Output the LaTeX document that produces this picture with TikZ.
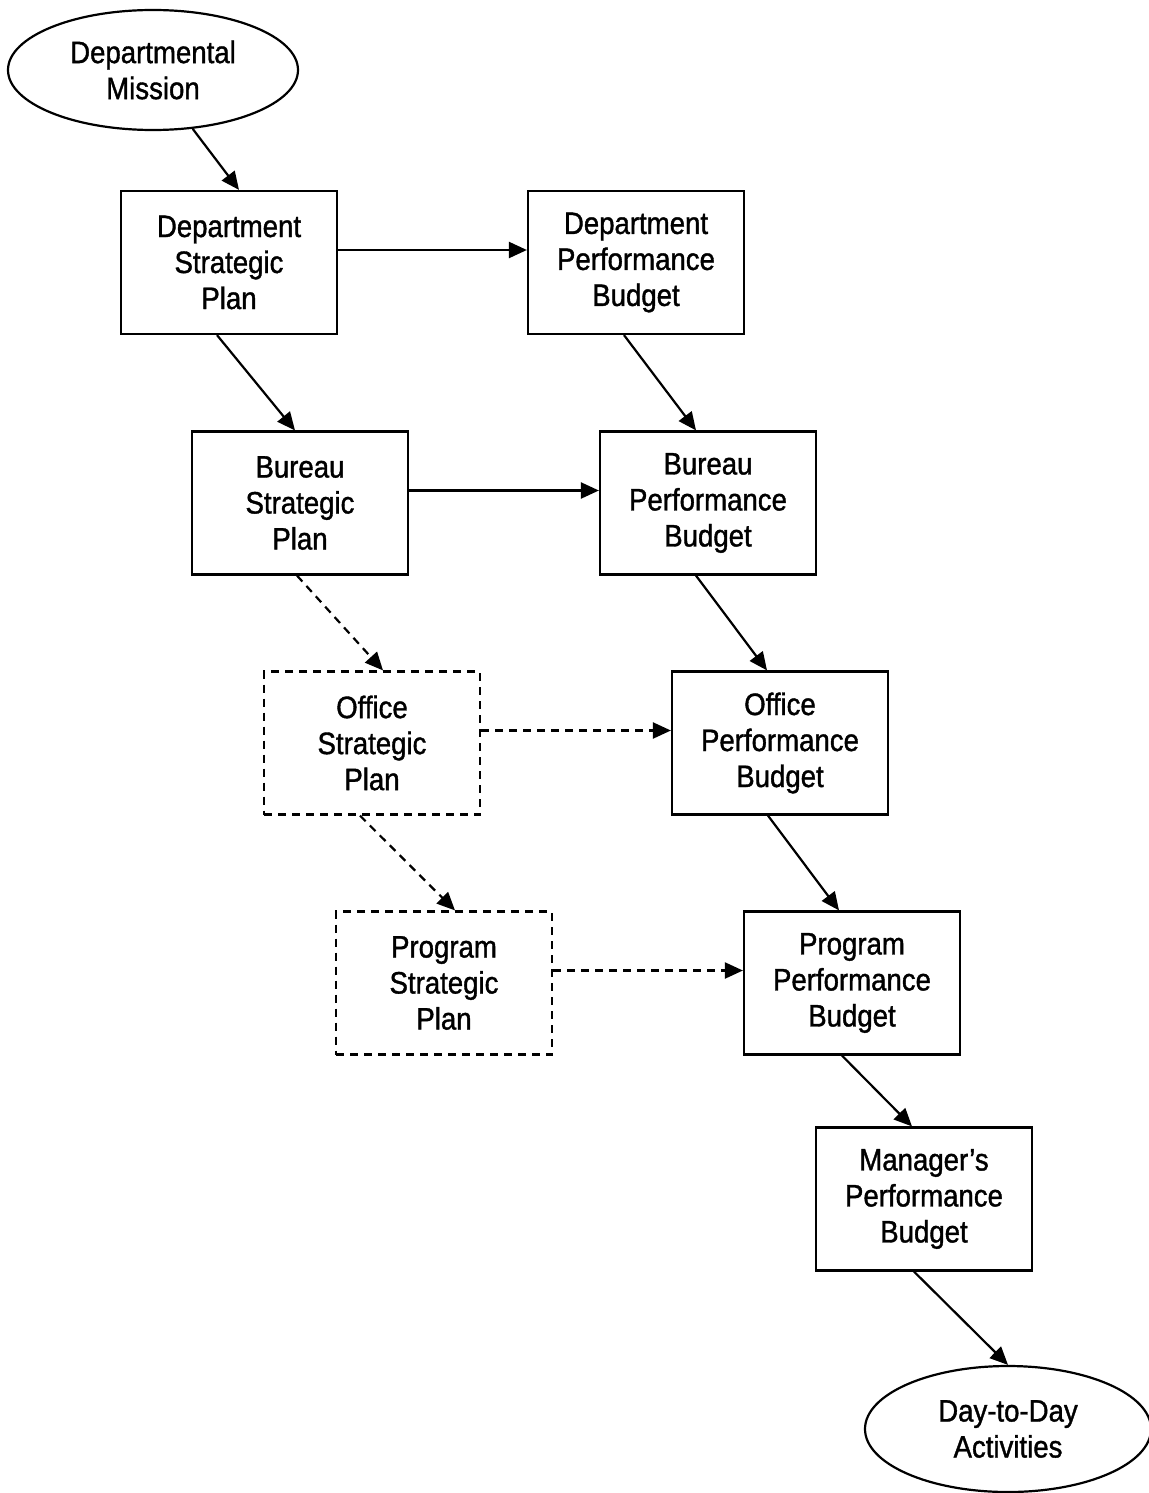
\documentclass[tikz,border=0pt]{standalone}
\usepackage{fontspec}
\setmainfont[FakeStretch=0.89,FakeBold=1.2]{Liberation Sans}
\usetikzlibrary{shapes.geometric,arrows.meta,calc}

\tikzset{
  base/.style={draw=black, line width=2.2pt, align=center, inner sep=0pt,
    font=\fontsize{31pt}{36pt}\selectfont, text=black},
  planbox/.style={base, rectangle, minimum width=216pt, minimum height=143pt},
  dashbox/.style={planbox, dash pattern=on 8pt off 6pt},
  oval/.style={base, ellipse},
  link/.style={draw=black, line width=2.2pt, -{Triangle[length=18pt,width=16pt]}},
  dashlink/.style={link, dash pattern=on 8pt off 6pt}
}

\begin{document}
\begin{tikzpicture}[x=1pt,y=-1pt]
  \useasboundingbox (0,0) rectangle (1148,1493);

  % terminal ovals
  \node[oval, minimum width=290pt, minimum height=120pt] (mission) at (153,70) {Departmental\\Mission};
  \node[oval, minimum width=286pt, minimum height=126pt] (daily) at (1008,1429) {Day-to-Day\\Activities};

  % strategic plans (left column)
  \node[planbox] (dsp) at (229,262.5) {Department\\Strategic\\Plan};
  \node[planbox] (bsp) at (300,503) {Bureau\\Strategic\\Plan};
  \node[dashbox] (osp) at (372,743) {Office\\Strategic\\Plan};
  \node[dashbox] (psp) at (444,983) {Program\\Strategic\\Plan};

  % performance budgets (right column)
  \node[planbox] (dpb) at (636,262.5) {Department\\Performance\\Budget};
  \node[planbox] (bpb) at (708,503) {Bureau\\Performance\\Budget};
  \node[planbox] (opb) at (780,743) {Office\\Performance\\Budget};
  \node[planbox] (ppb) at (852,983) {Program\\Performance\\Budget};
  \node[planbox] (mpb) at (924,1199) {Manager’s\\Performance\\Budget};

  % mission into the department plan
  \draw[link] (mission.-56) -- ([xshift=10pt]dsp.north);

  % plan to budget at each level
  \draw[link] ([yshift=12.5pt]dsp.east) -- ([yshift=12.5pt]dpb.west);
  \draw[link] ([yshift=12.5pt]bsp.east) -- ([yshift=12.5pt]bpb.west);
  \draw[dashlink] ([yshift=12.5pt]osp.east) -- ([yshift=12.5pt]opb.west);
  \draw[dashlink] ([yshift=12.5pt]psp.east) -- ([yshift=12.5pt]ppb.west);

  % cascade of strategic plans
  \draw[link] ([xshift=-12pt]dsp.south) -- ([xshift=-5pt]bsp.north);
  \draw[dashlink] ([xshift=-3pt]bsp.south) -- ([xshift=11pt]osp.north);
  \draw[dashlink] ([xshift=-12pt]osp.south) -- ([xshift=11pt]psp.north);

  % cascade of performance budgets
  \draw[link] ([xshift=-12pt]dpb.south) -- ([xshift=-12pt]bpb.north);
  \draw[link] ([xshift=-12pt]bpb.south) -- ([xshift=-13pt]opb.north);
  \draw[link] ([xshift=-12pt]opb.south) -- ([xshift=-13pt]ppb.north);
  \draw[link] ([xshift=-10pt]ppb.south) -- ([xshift=-12pt]mpb.north);
  \draw[link] ([xshift=-10pt]mpb.south) -- (daily.north);
\end{tikzpicture}
\end{document}
